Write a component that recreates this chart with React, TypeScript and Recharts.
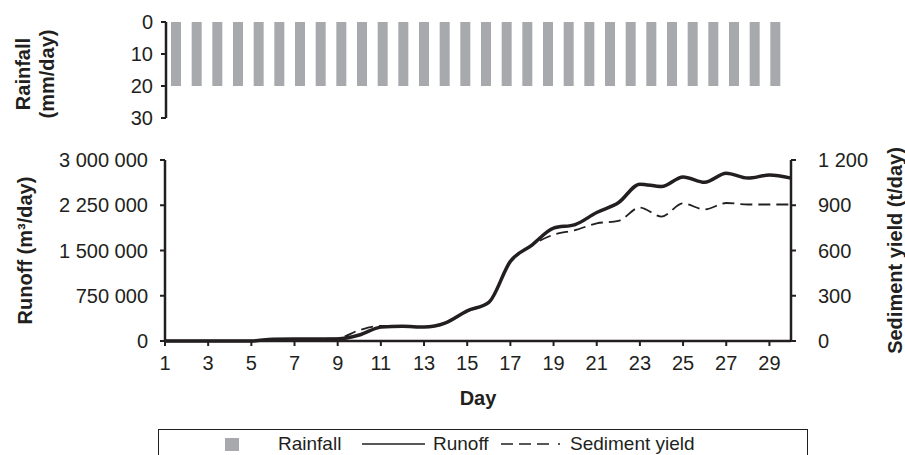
import { BarChart, Bar, LineChart, Line, XAxis, YAxis } from "recharts";

const FONT = '"Liberation Sans", Arial, Helvetica, sans-serif';
const INK = "#231f20";
const BAR_GREY = "#a7a9ac";

const DAYS = [
  1, 2, 3, 4, 5, 6, 7, 8, 9, 10, 11, 12, 13, 14, 15,
  16, 17, 18, 19, 20, 21, 22, 23, 24, 25, 26, 27, 28, 29, 30,
];
// mm/day
const RAINFALL = [
  20, 20, 20, 20, 20, 20, 20, 20, 20, 20, 20, 20, 20, 20, 20,
  20, 20, 20, 20, 20, 20, 20, 20, 20, 20, 20, 20, 20, 20, 20,
];
// m3/day
const RUNOFF = [
  0, 0, 0, 0, 0, 30000, 35000, 35000, 35000, 100000,
  230000, 245000, 230000, 300000, 500000, 640000, 1320000, 1590000, 1870000, 1930000,
  2130000, 2290000, 2600000, 2560000, 2720000, 2630000, 2780000, 2700000, 2750000, 2700000,
];
// t/day
const SEDIMENT = [
  0, 0, 0, 0, 0, 12, 14, 14, 18, 72,
  100, 100, 92, 118, 198, 255, 525, 635, 705, 735,
  780, 796, 885, 825, 912, 872, 915, 905, 905, 905,
];

const DAY_TICKS = [1, 3, 5, 7, 9, 11, 13, 15, 17, 19, 21, 23, 25, 27, 29];
const RAIN_TICKS = [0, 10, 20, 30];
const RUNOFF_TICKS = [0, 750000, 1500000, 2250000, 3000000];
const SEDIMENT_TICKS = [0, 300, 600, 900, 1200];

const LEGEND_ITEMS = [
  { name: "Rainfall", kind: "bar" },
  { name: "Runoff", kind: "line" },
  { name: "Sediment yield", kind: "dash" },
];

const rainData = DAYS.map((day, i) => ({ day, rainfall: RAINFALL[i] }));
const flowData = DAYS.map((day, i) => ({
  day,
  runoff: RUNOFF[i],
  sediment: SEDIMENT[i],
}));

const spaced = (v: number) => String(v).replace(/\B(?=(\d{3})+(?!\d))/g, " ");

const tickStyle = { fill: INK, fontSize: 20, fontFamily: FONT };
const axisLine = { stroke: INK, strokeWidth: 2.5 };
const tickLine = { stroke: INK, strokeWidth: 2 };

function RainTitle(props: any) {
  const { x, y, height } = props.viewBox;
  const cx = x + 35;
  const cy = y + height / 2 + 4;
  return (
    <text
      x={cx}
      y={cy}
      transform={`rotate(-90 ${cx} ${cy})`}
      textAnchor="middle"
      fontFamily={FONT}
      fontSize={20}
      fontWeight="bold"
      fill={INK}
    >
      <tspan x={cx} dy={-5.5}>Rainfall</tspan>
      <tspan x={cx} dy={24}>(mm/day)</tspan>
    </text>
  );
}

function SideTitle(props: any, text: string, shift: number) {
  const { x, y, height } = props.viewBox;
  const cx = x + shift;
  const cy = y + height / 2;
  return (
    <text
      x={cx}
      y={cy}
      dy={7}
      transform={`rotate(-90 ${cx} ${cy})`}
      textAnchor="middle"
      fontFamily={FONT}
      fontSize={20}
      fontWeight="bold"
      fill={INK}
    >
      {text}
    </text>
  );
}

function DayTitle(props: any) {
  const { x, y, width } = props.viewBox;
  return (
    <text
      x={x + width / 2}
      y={y + 64}
      textAnchor="middle"
      fontFamily={FONT}
      fontSize={20}
      fontWeight="bold"
      fill={INK}
    >
      Day
    </text>
  );
}

// legend item placement inside the box: icon left edge, icon width, gap to text
const LEGEND_LAYOUT: Record<string, { left: number; icon: number; gap: number }> = {
  bar: { left: 66, icon: 14, gap: 39 },
  line: { left: 203, icon: 63, gap: 8 },
  dash: { left: 342, icon: 59, gap: 10 },
};

function LegendIcon({ kind }: { kind: string }) {
  if (kind === "bar") {
    return <span style={{ display: "inline-block", width: 14, height: 13, background: BAR_GREY }} />;
  }
  const w = LEGEND_LAYOUT[kind].icon;
  return (
    <svg width={w} height={10} style={{ display: "block" }}>
      <line
        x1={0}
        x2={w}
        y1={5}
        y2={5}
        stroke={INK}
        strokeWidth={1.5}
        strokeDasharray={kind === "dash" ? "12 6 12 6 12 9 2 20" : undefined}
      />
    </svg>
  );
}

export default function App() {
  return (
    <div
      style={{
        position: "absolute",
        left: 0,
        top: 0,
        width: 905,
        height: 455,
        overflow: "hidden",
        background: "#fff",
        fontFamily: FONT,
      }}
    >
      <BarChart
        width={905}
        height={132}
        data={rainData}
        margin={{ top: 22, right: 119, bottom: 14, left: 0 }}
        barSize={10}
      >
        <XAxis
          dataKey="day"
          orientation="top"
          height={0}
          tick={false}
          tickLine={false}
          axisLine={{ stroke: INK, strokeWidth: 3 }}
        />
        <YAxis
          reversed
          type="number"
          domain={[0, 30]}
          ticks={RAIN_TICKS}
          interval={0}
          width={166}
          tick={tickStyle}
          tickLine={tickLine}
          tickSize={5}
          tickMargin={8}
          axisLine={axisLine}
          label={RainTitle}
        />
        <Bar dataKey="rainfall" fill={BAR_GREY} isAnimationActive={false} />
      </BarChart>

      <LineChart
        width={905}
        height={323}
        data={flowData}
        margin={{ top: 28, right: 0, bottom: 54, left: 0 }}
      >
        <XAxis
          type="number"
          dataKey="day"
          domain={[1, 30]}
          ticks={DAY_TICKS}
          interval={0}
          height={60}
          tick={tickStyle}
          tickLine={tickLine}
          tickSize={5}
          tickMargin={10}
          axisLine={axisLine}
          label={DayTitle}
        />
        <YAxis
          yAxisId="runoff"
          domain={[0, 3000000]}
          ticks={RUNOFF_TICKS}
          interval={0}
          width={165}
          tick={tickStyle}
          tickLine={tickLine}
          tickSize={5}
          tickMargin={12}
          tickFormatter={spaced}
          axisLine={axisLine}
          label={(p: any) => SideTitle(p, "Runoff (m³/day)", 25)}
        />
        <YAxis
          yAxisId="sediment"
          orientation="right"
          domain={[0, 1200]}
          ticks={SEDIMENT_TICKS}
          interval={0}
          width={114}
          tick={{ ...tickStyle, textAnchor: "start" }}
          tickLine={tickLine}
          tickSize={5}
          tickMargin={22}
          tickFormatter={spaced}
          axisLine={axisLine}
          label={(p: any) => SideTitle(p, "Sediment yield (t/day)", 104)}
        />
        <Line
          yAxisId="sediment"
          type="monotone"
          dataKey="sediment"
          stroke={INK}
          strokeWidth={1.8}
          strokeDasharray="12 6"
          dot={false}
          activeDot={false}
          isAnimationActive={false}
        />
        <Line
          yAxisId="runoff"
          type="monotone"
          dataKey="runoff"
          stroke={INK}
          strokeWidth={3.5}
          dot={false}
          activeDot={false}
          isAnimationActive={false}
        />
      </LineChart>

      <div
        style={{
          position: "absolute",
          left: 158,
          top: 429,
          width: 650,
          height: 40,
          boxSizing: "border-box",
          border: `1.5px solid ${INK}`,
          fontSize: 19,
          lineHeight: "22px",
          color: INK,
        }}
      >
        {LEGEND_ITEMS.map((item) => {
          const l = LEGEND_LAYOUT[item.kind];
          return (
            <div
              key={item.name}
              style={{
                position: "absolute",
                left: l.left,
                top: 3,
                height: 22,
                display: "flex",
                alignItems: "center",
                whiteSpace: "nowrap",
              }}
            >
              <LegendIcon kind={item.kind} />
              <span style={{ marginLeft: l.gap }}>{item.name}</span>
            </div>
          );
        })}
      </div>
    </div>
  );
}
